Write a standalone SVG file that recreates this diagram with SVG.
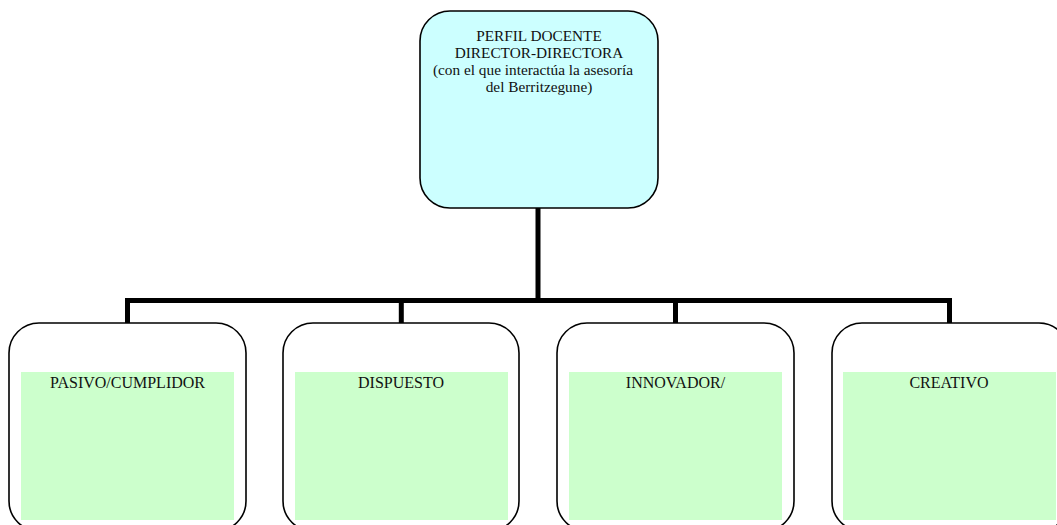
<svg xmlns="http://www.w3.org/2000/svg" width="1057" height="525" viewBox="0 0 1057 525">
  <style>
    .box { stroke: #000; stroke-width: 1.6; }
    .top { fill: #CCFFFF; }
    .child { fill: #FFFFFF; }
    .panel { fill: #CCFFCC; }
    .lbl { font-family: "Liberation Serif", "Times New Roman", serif; fill: #111; text-anchor: middle; }
    .t15 { font-size: 15.3px; }
    .t16 { font-size: 16px; }
    .link { fill: none; stroke: #000; stroke-width: 5; }
  </style>

  <rect width="1057" height="525" fill="#FFFFFF"/>

  <!-- tree connectors -->
  <g id="connectors">
    <path class="link" d="M538 208 V300.5"/>
    <path class="link" d="M125 300.5 H952"/>
    <path class="link" d="M127.5 300.5 V324"/>
    <path class="link" d="M401.3 300.5 V324"/>
    <path class="link" d="M675.5 300.5 V324"/>
    <path class="link" d="M949.5 300.5 V324"/>
  </g>

  <!-- root node -->
  <g id="root">
    <rect class="box top" x="420" y="11" width="238" height="197" rx="30" ry="30"/>
    <text class="lbl t15" x="539" y="40.5">PERFIL DOCENTE</text>
    <text class="lbl t15" x="539" y="57.5">DIRECTOR-DIRECTORA</text>
    <text class="lbl t15" x="533" y="74.5">(con el que interactúa la asesoría</text>
    <text class="lbl t15" x="539" y="91.5">del Berritzegune)</text>
  </g>

  <!-- child nodes -->
  <g id="pasivo">
    <rect class="box child" x="9" y="323" width="237" height="208" rx="30" ry="30"/>
    <rect class="panel" x="21" y="372" width="213" height="148"/>
    <text class="lbl t16" x="127.5" y="387.5">PASIVO/CUMPLIDOR</text>
  </g>

  <g id="dispuesto">
    <rect class="box child" x="283" y="323" width="236" height="208" rx="30" ry="30"/>
    <rect class="panel" x="295" y="372" width="213" height="148"/>
    <text class="lbl t16" x="401" y="387.5">DISPUESTO</text>
  </g>

  <g id="innovador">
    <rect class="box child" x="557" y="323" width="237" height="208" rx="30" ry="30"/>
    <rect class="panel" x="569" y="372" width="213" height="148"/>
    <text class="lbl t16" x="675.5" y="387.5">INNOVADOR/</text>
  </g>

  <g id="creativo">
    <rect class="box child" x="832" y="323" width="237" height="208" rx="30" ry="30"/>
    <rect class="panel" x="843" y="372" width="213" height="148"/>
    <text class="lbl t16" x="949" y="387.5">CREATIVO</text>
  </g>
</svg>
